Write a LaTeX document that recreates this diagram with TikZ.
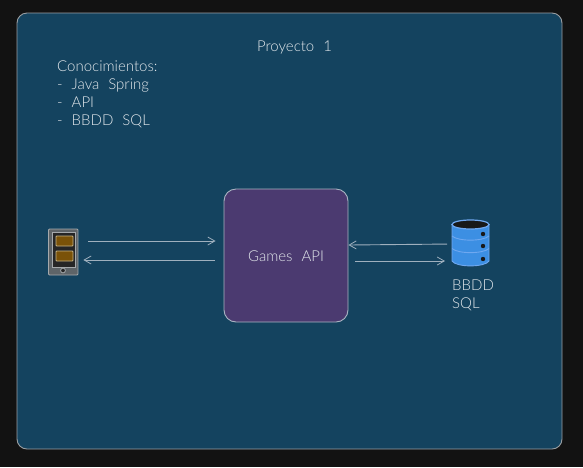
\documentclass[tikz,border=0pt]{standalone}
\usepackage{fontspec}
\setmainfont{Lato Light}[ItalicFont=Lato Light Italic,WordSpace=2.2]
\usetikzlibrary{arrows.meta}
\definecolor{pagebg}{HTML}{121212}
\definecolor{panelbg}{HTML}{14435F}
\definecolor{panelline}{HTML}{9A9FA3}
\definecolor{apibg}{HTML}{4B3A70}
\definecolor{apiline}{HTML}{A9B4C2}
\definecolor{inktext}{HTML}{E3E8EC}
\definecolor{arrowink}{HTML}{9FB0BE}
\definecolor{dbblue}{HTML}{3C8FE3}
\definecolor{dbline}{HTML}{6FA8F0}
\definecolor{phonegrey}{HTML}{5E6468}
\definecolor{phoneline}{HTML}{A5A9AC}
\definecolor{slotgold}{HTML}{7A5208}
\definecolor{slotline}{HTML}{C7B486}
\tikzset{
  x=1pt,y=-1pt,
  label text/.style={font=\fontsize{15}{18}\selectfont,text=inktext,inner sep=0pt},
  link/.style={draw=arrowink,line width=0.9pt,-{Straight Barb[length=7pt,width=8pt,line width=0.8pt]}},
}
\begin{document}
\begin{tikzpicture}
\useasboundingbox (0,0) rectangle (583,467);
\fill[pagebg] (0,0) rectangle (583,467);
\node[draw=panelline,fill=panelbg,line width=0.9pt,rounded corners=10pt,minimum width=545pt,minimum height=436pt,inner sep=0pt] (panel) at (289.5,231) {};
\node[label text,anchor=center] (title) at (294.5,47.5) {Proyecto 1};
\node[label text,anchor=north west,align=left] (skills) at (57,61) {Conocimientos:\\- Java Spring\\- API\\- BBDD SQL};
\node[draw=apiline,fill=apibg,line width=0.9pt,rounded corners=12pt,minimum width=124pt,minimum height=133pt,inner sep=0pt] (api) at (286,255.5) {};
\node[label text] (apilabel) at (286,256.5) {Games API};
% phone
\node[draw=phoneline,fill=phonegrey,line width=0.8pt,rounded corners=1pt,minimum width=29.5pt,minimum height=46pt,inner sep=0pt] (phone) at (63.2,252) {};
\fill[black!85] (52,232) rectangle (75,267);
\draw[phoneline,line width=0.5pt] (52,232) rectangle (75,267);
\draw[slotline,fill=slotgold,line width=0.8pt,rounded corners=0.8pt] (56,236) rectangle (73,246);
\draw[slotline,fill=slotgold,line width=0.8pt,rounded corners=0.8pt] (56,251) rectangle (73,261);
\draw[phoneline,fill=black!85,line width=0.8pt] (63,270.5) circle (2.4);
% database
\fill[dbblue] (452,261) .. controls (456,267.5) and (485,267.5) .. (489,261) -- (489,224) -- (452,224) -- cycle;
\draw[dbline,line width=0.9pt] (452,224) -- (452,261) .. controls (456,267.5) and (485,267.5) .. (489,261) -- (489,224);
\draw[dbline,line width=0.9pt] (452,236) .. controls (458,241.5) and (483,241.5) .. (489,236);
\draw[dbline,line width=0.9pt] (452,248.5) .. controls (458,254) and (483,254) .. (489,248.5);
\draw[dbline,fill=black!90,line width=1.2pt] (470.5,224.5) ellipse (18.5 and 4.5);
\foreach \yy in {234,246,259}{\fill[black!90] (483,\yy) circle (2.2);}
\coordinate (dbport) at (452,244);
\coordinate (dbinlet) at (452,261);
\node[label text,anchor=north west,align=left] (dblabel) at (452,279.5) {BBDD\\SQL};
% connectors
\draw[link,shorten <=10pt,shorten >=8pt] (phone.east |- 0,241) -- (api.west |- 0,241);
\draw[link,shorten <=9pt,shorten >=5pt] (api.west |- 0,260) -- (phone.east |- 0,260);
\draw[link,shorten <=5pt,shorten >=0pt] (dbport) -- (api.east |- 0,245);
\draw[link,shorten <=7pt,shorten >=7pt] (api.east |- 0,261) -- (dbinlet);
\end{tikzpicture}
\end{document}
